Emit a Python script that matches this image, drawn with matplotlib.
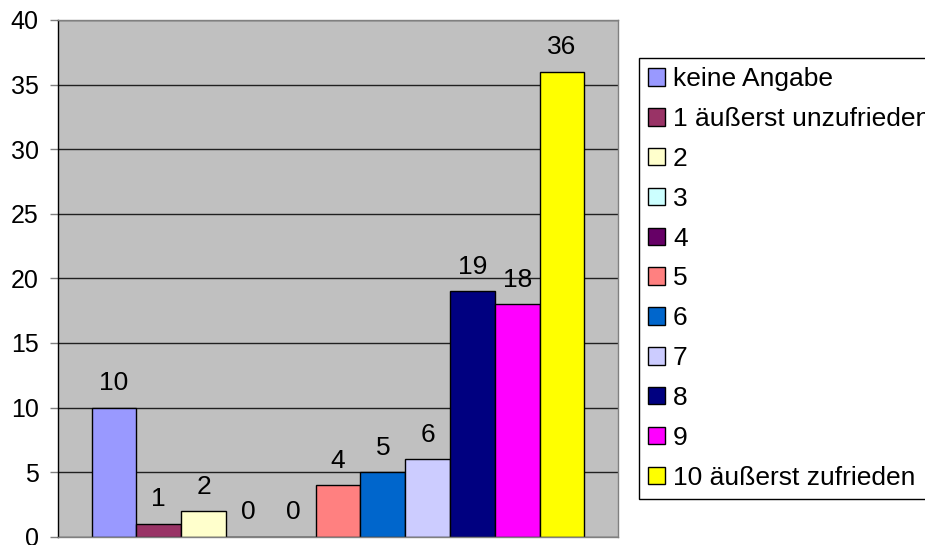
import matplotlib.pyplot as plt
import numpy as np

plt.rcParams['font.family'] = ['Liberation Sans', 'DejaVu Sans']

# Daten
kategorien = ['keine Angabe', '1 äußerst unzufrieden', '2', '3', '4', '5',
              '6', '7', '8', '9', '10 äußerst zufrieden']
anzahl = [10, 1, 2, 0, 0, 4, 5, 6, 19, 18, 36]
farben = ['#9999FF', '#993366', '#FFFFCC', '#CCFFFF', '#660066', '#FF8080',
          '#0066CC', '#CCCCFF', '#000080', '#FF00FF', '#FFFF00']
y_ticks = [0, 5, 10, 15, 20, 25, 30, 35, 40]

fig = plt.figure(figsize=(9.25, 5.45), dpi=100)
ax = fig.add_axes([58 / 925, 8.3 / 545, 560 / 925, 516.7 / 545])
ax.set_facecolor('#C0C0C0')

x = np.arange(len(anzahl))
for i, (k, v, c) in enumerate(zip(kategorien, anzahl, farben)):
    ax.bar(x[i], v, width=1.0, color=c, edgecolor='black', linewidth=1.0,
           label=k, zorder=2)
    ax.annotate(str(v), xy=(x[i], v), xytext=(0, 12.5), textcoords='offset points',
                ha='center', va='baseline', fontsize=19, color='black')

ax.set_xlim(-0.5 - 0.75, len(anzahl) - 0.5 + 0.75)
ax.set_ylim(0, 40)
ax.set_yticks(y_ticks)
ax.set_xticks([])
ax.tick_params(axis='y', direction='out', length=6, width=1, color='#808080',
               labelsize=18, pad=8)
ax.yaxis.grid(True, color='#202020', linewidth=1.0, zorder=1)
ax.set_axisbelow(True)

for s in ['top', 'right', 'bottom']:
    ax.spines[s].set_color('#808080')
    ax.spines[s].set_linewidth(1.0)
ax.spines['left'].set_color('black')
ax.spines['left'].set_linewidth(1.0)
for s in ax.spines.values():
    s.set_zorder(3)

leg = ax.legend(loc='upper left', bbox_to_anchor=(639 / 925, 1 - 58 / 545),
                bbox_transform=fig.transFigure, borderaxespad=0, fontsize=19,
                frameon=True, fancybox=False, framealpha=1, edgecolor='black',
                handlelength=0.64, handleheight=0.64, handletextpad=0.3,
                labelspacing=0.6, borderpad=0.35)
leg.get_frame().set_linewidth(1.0)

fig.savefig('out.png', dpi=100)
